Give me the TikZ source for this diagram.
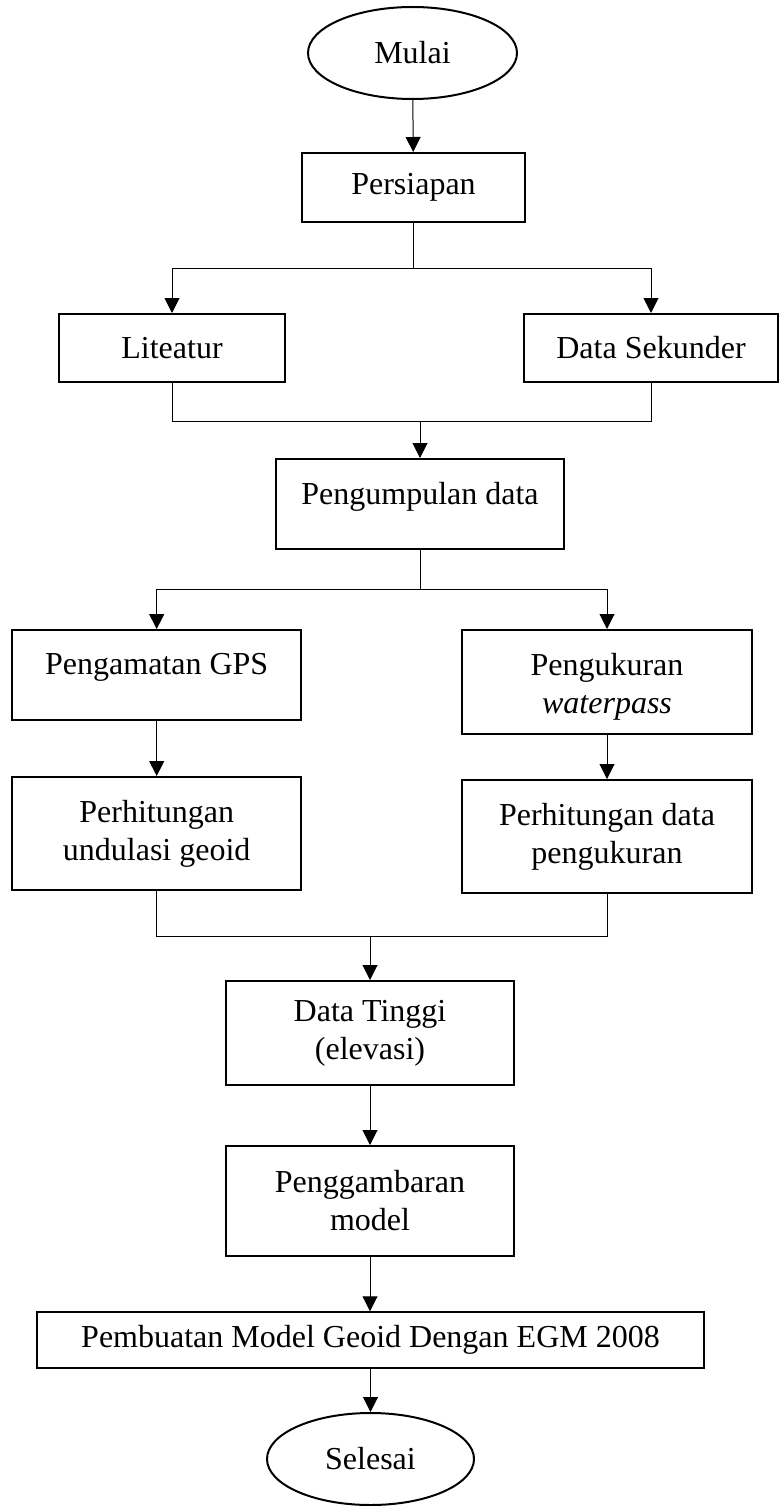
\documentclass[tikz,border=0pt]{standalone}
\usepackage{fontspec}
\setmainfont{Liberation Serif}
\usetikzlibrary{arrows.meta,shapes.geometric}
\begin{document}
\begin{tikzpicture}[x=1pt,y=-1pt,
  every node/.style={font=\fontsize{32pt}{38pt}\selectfont, align=center, inner sep=0pt},
  box/.style={draw, rectangle, line width=2pt},
  term/.style={draw, ellipse, line width=2pt},
  conn/.style={line width=1pt},
  arr/.style={line width=1pt, -{Triangle[width=15pt,length=15pt]}}
]
\useasboundingbox (0,0) rectangle (781,1506);

\node[term, minimum width=209pt, minimum height=92pt] (mulai) at (412.5,53) {Mulai};
\node[box, minimum width=223pt, minimum height=69pt] (persiapan) at (413.5,187.5) {Persiapan};
\node[box, minimum width=226pt, minimum height=68pt] (liteatur) at (172,348) {Liteatur};
\node[box, minimum width=254pt, minimum height=68pt] (sekunder) at (651,348) {Data Sekunder};
\node[box, minimum width=288pt, minimum height=90pt,
  label={[yshift=7pt]center:Pengumpulan data}] (kumpul) at (420,504) {};
\node[box, minimum width=289pt, minimum height=90pt,
  label={[yshift=8pt]center:Pengamatan GPS}] (gps) at (156.7,675) {};
\node[box, minimum width=290pt, minimum height=104pt,
  label={[yshift=-5pt]center:Pengukuran\\\textit{waterpass}}] (ukur) at (607,682) {};
\node[box, minimum width=289pt, minimum height=113pt] (undulasi) at (156.7,833.5) {Perhitungan\\undulasi geoid};
\node[box, minimum width=290pt, minimum height=113pt] (hitung) at (607,836.5) {Perhitungan data\\pengukuran};
\node[box, minimum width=288pt, minimum height=104pt] (tinggi) at (370,1033) {Data Tinggi\\(elevasi)};
\node[box, minimum width=288pt, minimum height=110pt] (gambar) at (370,1201) {Penggambaran\\model};
\node[box, line width=1.5pt, minimum width=667pt, minimum height=56pt] (egm) at (370.5,1340) {Pembuatan Model Geoid Dengan EGM 2008};
\node[term, minimum width=207pt, minimum height=92pt] (selesai) at (370.5,1459) {Selesai};

\coordinate (b1) at (413.5,268);
\coordinate (m1) at (420,421);
\coordinate (b2) at (420,589);
\coordinate (m2) at (370,936);

\draw[arr] (mulai) -- (persiapan);
\draw[conn] (persiapan.south) -- (b1);
\draw[arr] (b1) -| (liteatur.north);
\draw[arr] (b1) -| (sekunder.north);
\draw[conn] (liteatur.south) |- (m1);
\draw[conn] (sekunder.south) |- (m1);
\draw[arr] (m1) -- (kumpul.north);
\draw[conn] (kumpul.south) -- (b2);
\draw[arr] (b2) -| (gps.north);
\draw[arr] (b2) -| (ukur.north);
\draw[arr] (gps) -- (undulasi);
\draw[arr] (ukur) -- (hitung);
\draw[conn] (undulasi.south) |- (m2);
\draw[conn] (hitung.south) |- (m2);
\draw[arr] (m2) -- (tinggi.north);
\draw[arr] (tinggi) -- (gambar);
\draw[arr] (gambar.south) -- (gambar.south |- egm.north);
\draw[arr] (egm.south -| selesai.north) -- (selesai.north);
\end{tikzpicture}
\end{document}
